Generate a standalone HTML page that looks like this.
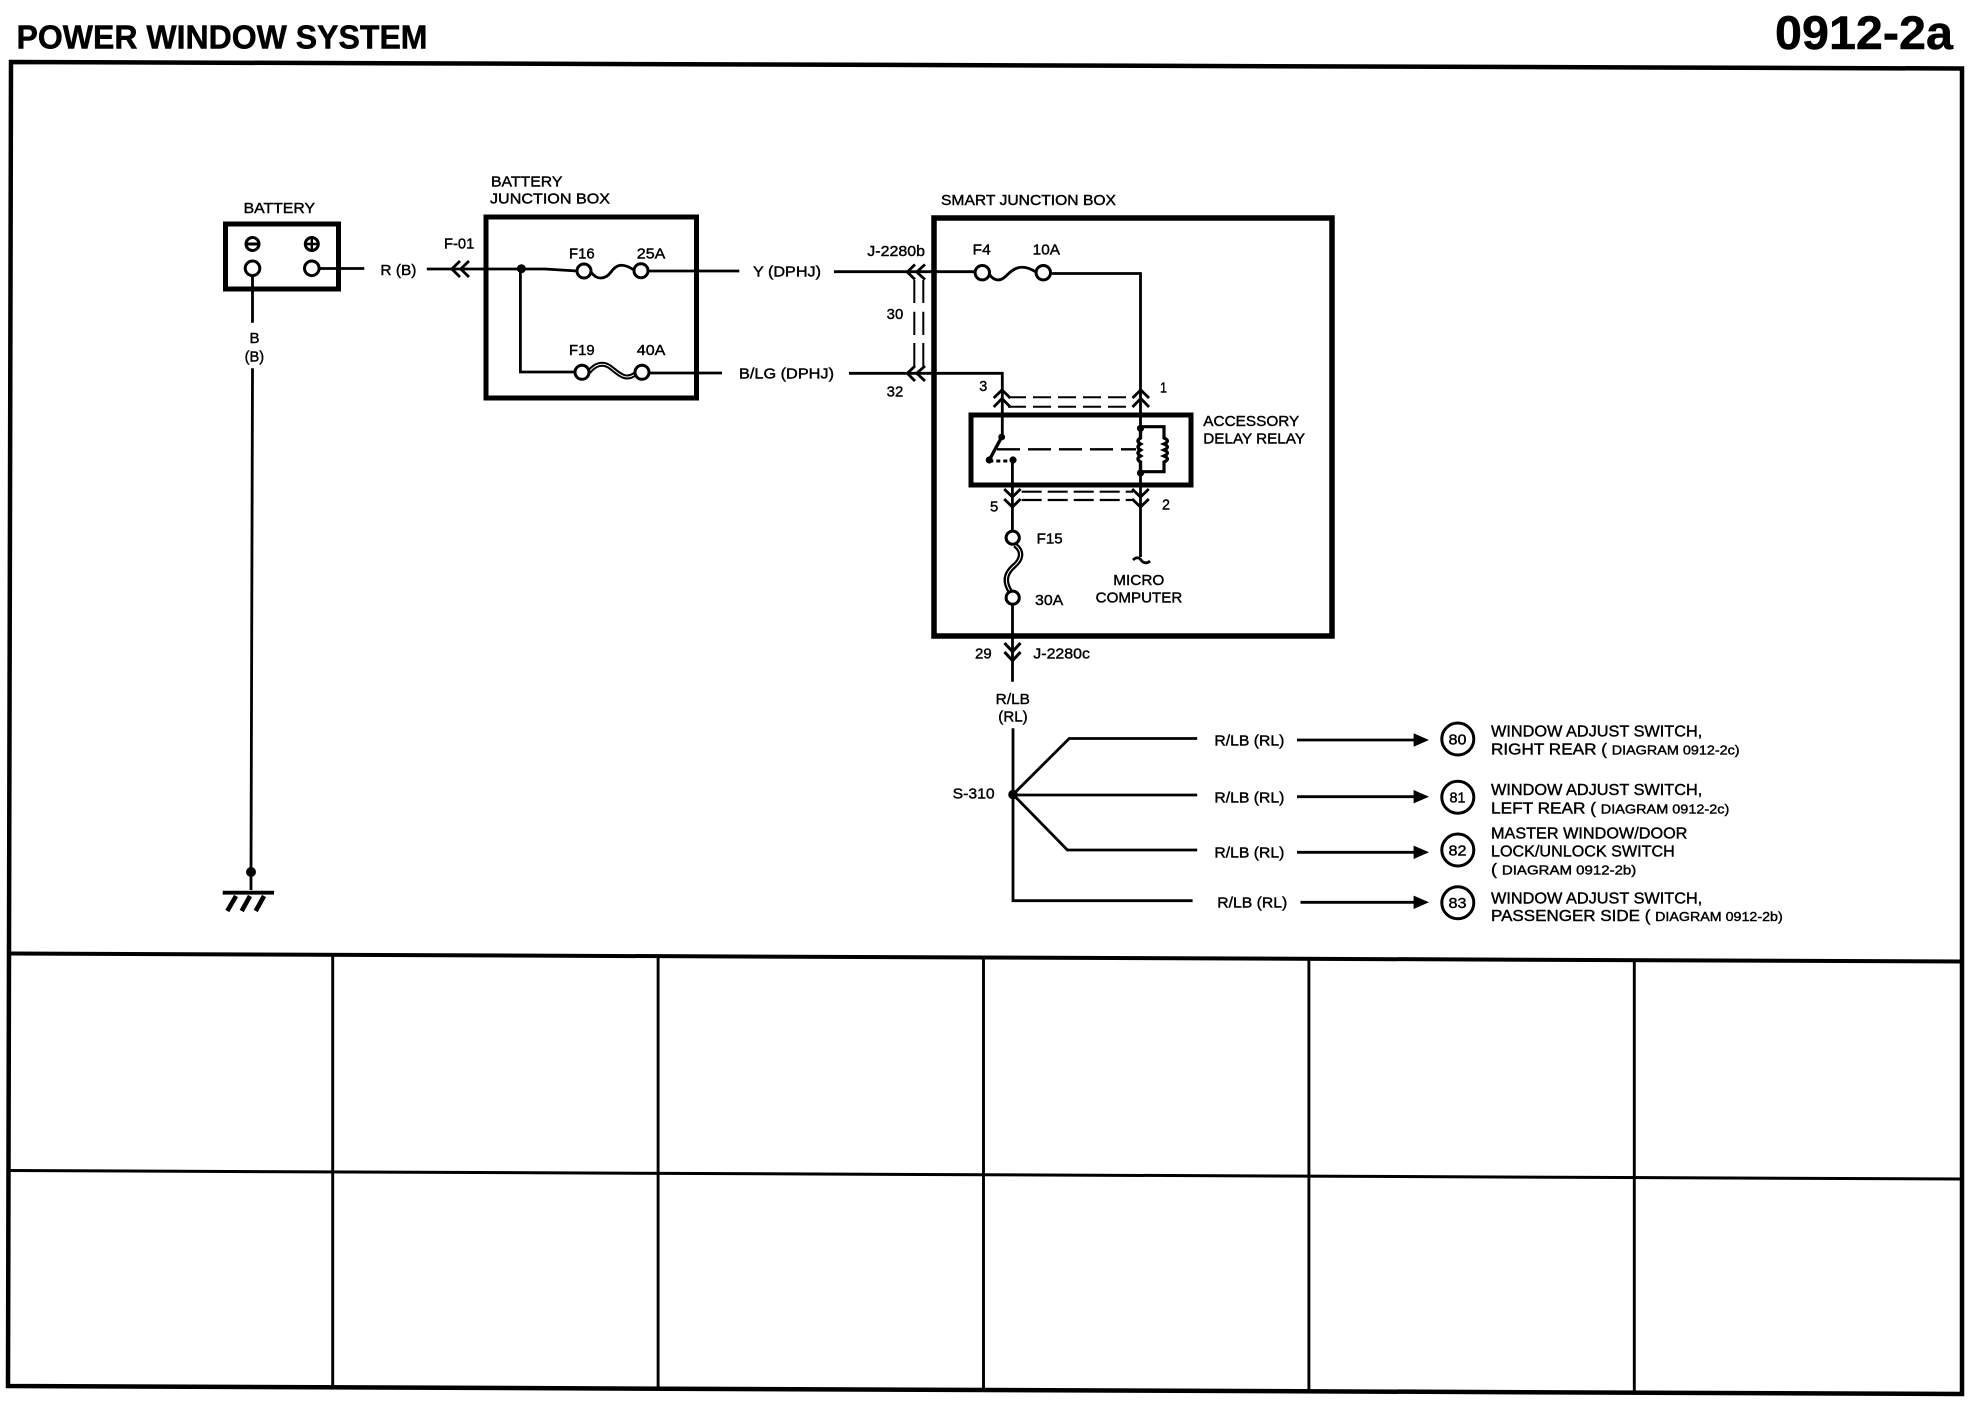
<!DOCTYPE html>
<html><head><meta charset="utf-8"><title>Power Window System</title>
<style>
html,body{margin:0;padding:0;background:#fff}
svg{display:block}
text{font-family:"Liberation Sans",sans-serif;font-size:14.5px;fill:#000;stroke:#000;stroke-width:.4}
.t{font-family:"Liberation Sans",sans-serif;font-weight:bold;stroke:#000;stroke-width:.5}
.l{font-size:15.5px}
.s{font-size:13px}
.w{fill:none;stroke:#000;stroke-width:2.8}
.c{fill:#fff;stroke:#000;stroke-width:3}
.b{fill:none;stroke:#000;stroke-width:5}
.d{fill:#000;stroke:none}
</style></head><body>
<svg width="1980" height="1408" viewBox="0 0 1980 1408" xmlns="http://www.w3.org/2000/svg">
<rect width="1980" height="1408" fill="#fff"/>

<!-- Headings -->
<text class="t" x="16.5" y="48.5" style="font-size:33px" textLength="411" lengthAdjust="spacingAndGlyphs">POWER WINDOW SYSTEM</text>
<text class="t" x="1775" y="49" style="font-size:47px" textLength="178" lengthAdjust="spacingAndGlyphs">0912-2a</text>

<!-- Frame and grid -->
<g fill="none" stroke="#000">
<path d="M11 62 L1962 68.5 V1394 L8 1386 Z" stroke-width="4.5"/>
<path d="M10 953.5 L1962 961.5" stroke-width="4"/>
<path d="M8 1170.5 L1962 1179" stroke-width="3"/>
<path d="M332.7 954.5V1387M658.1 956V1388.5M983.5 957V1390M1308.9 958.5V1391.5M1634.3 960V1393" stroke-width="2.9"/>
</g>

<!-- Battery -->
<text x="243.6" y="213" textLength="71.4" lengthAdjust="spacingAndGlyphs">BATTERY</text>
<rect x="225.5" y="224" width="113" height="65" class="b"/>
<circle cx="252.5" cy="244" r="6.5" class="c"/><path d="M247 244h11" stroke="#000" stroke-width="3"/>
<circle cx="311.8" cy="244" r="6.5" class="c"/><path d="M306 244h12M311.8 238v12" stroke="#000" stroke-width="2.4"/>
<path d="M252.5 276V322.7M252.5 368.3L251 872V890M319.5 268.5H364.3" class="w"/>
<circle cx="252.5" cy="268.3" r="7.3" class="c"/>
<circle cx="311.8" cy="268.3" r="7.3" class="c"/>
<text x="249.5" y="343" textLength="10" lengthAdjust="spacingAndGlyphs">B</text>
<text x="244.6" y="361.7" textLength="19.5" lengthAdjust="spacingAndGlyphs">(B)</text>
<text x="380.4" y="275" textLength="36" lengthAdjust="spacingAndGlyphs">R (B)</text>

<!-- Ground -->
<circle cx="251" cy="872" r="5" class="d"/>
<path d="M222.7 892.7H274" stroke="#000" stroke-width="3.8"/>
<path d="M236 896L227.3 911M250 896L241.7 911M264 896L255.7 911" stroke="#000" stroke-width="4.6" fill="none"/>

<!-- Battery junction box -->
<text x="491" y="186.7" textLength="71.4" lengthAdjust="spacingAndGlyphs">BATTERY</text>
<text x="490" y="203.3" textLength="120" lengthAdjust="spacingAndGlyphs">JUNCTION BOX</text>
<rect x="486" y="217" width="210.5" height="181" class="b"/>
<text x="444" y="248.3" textLength="30.3" lengthAdjust="spacingAndGlyphs">F-01</text>
<path d="M426.8 269H545L577 271M460 261L451.8 269L460 277M469 261L460.7 269L469 277" class="w"/>
<circle cx="521.4" cy="268.7" r="4.5" class="d"/>
<path d="M520.4 269V372H575" class="w"/>
<text x="569" y="258.3" textLength="25.6" lengthAdjust="spacingAndGlyphs">F16</text>
<text x="636.8" y="258.3" textLength="28.6" lengthAdjust="spacingAndGlyphs">25A</text>
<path d="M591 272C597 281 606 279 611 272S622 262 634 270" class="w"/>
<path d="M648 271H739.3" class="w"/>
<circle cx="584" cy="271" r="7" class="c"/>
<circle cx="641" cy="270.7" r="7" class="c"/>
<text x="569" y="355" textLength="25.6" lengthAdjust="spacingAndGlyphs">F19</text>
<text x="636.8" y="355" textLength="28.6" lengthAdjust="spacingAndGlyphs">40A</text>
<path d="M589 372C595 364 603 362 610 367S625 382 635 374" fill="none" stroke="#000" stroke-width="5"/>
<path d="M589 372C595 364 603 362 610 367S625 382 635 374" fill="none" stroke="#fff" stroke-width="1"/>
<path d="M649 373H722" class="w"/>
<circle cx="582" cy="372.3" r="7" class="c"/>
<circle cx="642" cy="372.3" r="7" class="c"/>
<text x="753" y="276.5" textLength="68" lengthAdjust="spacingAndGlyphs">Y (DPHJ)</text>
<text x="739" y="378.5" textLength="95" lengthAdjust="spacingAndGlyphs">B/LG (DPHJ)</text>

<!-- Smart junction box -->
<text x="941" y="205" textLength="175" lengthAdjust="spacingAndGlyphs">SMART JUNCTION BOX</text>
<rect x="934" y="218" width="398" height="418" fill="none" stroke="#000" stroke-width="5.5"/>
<text x="867.3" y="256" textLength="57.7" lengthAdjust="spacingAndGlyphs">J-2280b</text>
<text x="972.7" y="254.3" textLength="18" lengthAdjust="spacingAndGlyphs">F4</text>
<text x="1032.7" y="254.3" textLength="27.3" lengthAdjust="spacingAndGlyphs">10A</text>
<text x="886.7" y="319" textLength="16.6" lengthAdjust="spacingAndGlyphs">30</text>
<text x="886.7" y="396.7" textLength="16.6" lengthAdjust="spacingAndGlyphs">32</text>
<text x="979.3" y="391" textLength="8" lengthAdjust="spacingAndGlyphs">3</text>
<text x="1160" y="392.7" textLength="7" lengthAdjust="spacingAndGlyphs">1</text>
<path d="M834 271.7H975M1050 273.5H1140.5V428" class="w"/>
<path d="M915 264.5L907.3 272L915 279.5M925 264.5L916.7 272L925 279.5" class="w"/>
<path d="M989 274C994 281 1000 282 1006 276S1020 262 1036 272" class="w"/>
<circle cx="982.3" cy="272.7" r="7.2" class="c"/>
<circle cx="1043.3" cy="272.7" r="7.2" class="c"/>
<path d="M914.3 280V303M923.3 280V303M914.3 311.7V335M923.3 311.7V335M914.3 343V367M923.3 343V367" fill="none" stroke="#000" stroke-width="2"/>
<path d="M849 373.3H1002.3V437" class="w"/>
<path d="M915 366L907.3 373.3L915 381M925 366L916.7 373.3L925 381" class="w"/>

<!-- Relay upper chevrons and dashes -->
<path d="M993.7 398L1002 390L1010.3 398M993.7 407L1002 398.5L1010.3 407" class="w"/>
<path d="M1132.5 398L1140.8 390L1149 398M1132.5 407L1140.8 398.5L1149 407" class="w"/>
<path d="M1008 397.3H1133M1008 406.7H1133" fill="none" stroke="#000" stroke-width="2" stroke-dasharray="18 7"/>

<!-- Relay -->
<rect x="971" y="415" width="220" height="70" class="b"/>
<text x="1203.3" y="426" textLength="96" lengthAdjust="spacingAndGlyphs">ACCESSORY</text>
<text x="1203.3" y="443.3" textLength="101.7" lengthAdjust="spacingAndGlyphs">DELAY RELAY</text>
<path d="M1001.7 437L989.3 460" stroke="#000" stroke-width="3.4" fill="none"/>
<circle cx="1001.7" cy="437" r="3.4" class="d"/>
<circle cx="989.3" cy="460" r="3.6" class="d"/>
<circle cx="1013" cy="460" r="3.6" class="d"/>
<path d="M989.3 461H1013" fill="none" stroke="#000" stroke-width="3" stroke-dasharray="4 3"/>
<path d="M997 449.3H1136" fill="none" stroke="#000" stroke-width="2.4" stroke-dasharray="23 8"/>
<path d="M1140.5 428V438q-5 3 0 6q-5 3 0 6q-5 3 0 6q-5 3 0 6V473" fill="none" stroke="#000" stroke-width="3.4"/>
<path d="M1140.5 426.7H1164V438q7 3 0 6q7 3 0 6q7 3 0 6q7 3 0 6V471.7H1140.5" fill="none" stroke="#000" stroke-width="3.2"/>
<circle cx="1140.5" cy="428.3" r="3.6" class="d"/>
<circle cx="1140.5" cy="473" r="3.6" class="d"/>
<path d="M1012.4 460V530" class="w"/>
<path d="M1140.5 473V557" class="w"/>

<!-- Relay lower chevrons and dashes -->
<path d="M1004.2 489L1012.4 497L1020.6 489M1004.2 499L1012.4 507L1020.6 499" class="w"/>
<path d="M1132.2 489L1140.5 497L1148.8 489M1132.2 499L1140.5 507L1148.8 499" class="w"/>
<path d="M1021.7 491.7H1133M1021.7 500H1133" fill="none" stroke="#000" stroke-width="2.2" stroke-dasharray="20 6"/>
<text x="990" y="511.7" textLength="8.3" lengthAdjust="spacingAndGlyphs">5</text>
<text x="1162" y="509.3" textLength="8" lengthAdjust="spacingAndGlyphs">2</text>

<!-- F15 -->
<path d="M1015 545C1024 552 1021 560 1014 566S1003 580 1010 591" fill="none" stroke="#000" stroke-width="5.5"/>
<path d="M1015 545C1024 552 1021 560 1014 566S1003 580 1010 591" fill="none" stroke="#fff" stroke-width="1"/>
<circle cx="1012.7" cy="537.7" r="6.6" class="c"/>
<circle cx="1012.7" cy="597.7" r="6.6" class="c"/>
<text x="1036.7" y="543.3" textLength="26" lengthAdjust="spacingAndGlyphs">F15</text>
<text x="1035" y="605" textLength="28.3" lengthAdjust="spacingAndGlyphs">30A</text>
<path d="M1012.5 605V681.7" class="w"/>
<path d="M1004.5 643L1012.5 651.7L1020.5 643M1004.5 652L1012.5 660.7L1020.5 652" fill="none" stroke="#000" stroke-width="3"/>
<text x="975" y="658.3" textLength="16.7" lengthAdjust="spacingAndGlyphs">29</text>
<text x="1033.3" y="658.3" textLength="56.7" lengthAdjust="spacingAndGlyphs">J-2280c</text>

<!-- Micro computer -->
<path d="M1133 560C1136 557 1139 557 1141 560S1147 564 1150 561" class="w"/>
<text x="1113.3" y="585" textLength="51" lengthAdjust="spacingAndGlyphs">MICRO</text>
<text x="1095.7" y="602.7" textLength="86.6" lengthAdjust="spacingAndGlyphs">COMPUTER</text>

<!-- R/LB trunk -->
<text x="995.7" y="704" textLength="34.3" lengthAdjust="spacingAndGlyphs">R/LB</text>
<text x="998.3" y="721.7" textLength="29.4" lengthAdjust="spacingAndGlyphs">(RL)</text>
<path d="M1013 728.3V900.7H1192.6" class="w"/>
<circle cx="1013" cy="794.5" r="4.8" class="d"/>
<text x="952.6" y="798.3" textLength="42" lengthAdjust="spacingAndGlyphs">S-310</text>
<path d="M1013 794.5L1069.2 738.5H1197.2M1013 795H1197.2M1013 794.5L1067.4 850H1197.2" class="w"/>

<text x="1214.4" y="745.7" textLength="70" lengthAdjust="spacingAndGlyphs">R/LB (RL)</text>
<text x="1214.4" y="802.7" textLength="70" lengthAdjust="spacingAndGlyphs">R/LB (RL)</text>
<text x="1214.4" y="857.3" textLength="70" lengthAdjust="spacingAndGlyphs">R/LB (RL)</text>
<text x="1217.3" y="907.3" textLength="70" lengthAdjust="spacingAndGlyphs">R/LB (RL)</text>

<path d="M1297 740H1416M1297 796.7H1416M1297 852.3H1416M1300.5 902.3H1416" class="w"/>
<path d="M1413.6 733.3L1429 740L1413.6 746.7ZM1413.6 790L1429 796.7L1413.6 803.4ZM1413.6 845.6L1429 852.3L1413.6 859ZM1413.6 895.6L1429 902.3L1413.6 909Z" class="d"/>

<circle cx="1457.8" cy="739" r="16" class="c"/>
<circle cx="1457.8" cy="797.3" r="16" class="c"/>
<circle cx="1457.8" cy="850" r="16" class="c"/>
<circle cx="1457.8" cy="902.7" r="16" class="c"/>
<text x="1448.5" y="744.3" textLength="18" lengthAdjust="spacingAndGlyphs">80</text>
<text x="1449.5" y="802.6" textLength="16" lengthAdjust="spacingAndGlyphs">81</text>
<text x="1448.5" y="855.3" textLength="18" lengthAdjust="spacingAndGlyphs">82</text>
<text x="1448.5" y="908" textLength="18" lengthAdjust="spacingAndGlyphs">83</text>

<!-- Destinations -->
<text class="l" x="1491" y="736.7" textLength="211.3" lengthAdjust="spacingAndGlyphs">WINDOW ADJUST SWITCH,</text>
<text class="l" x="1491" y="754.3" textLength="248.6" lengthAdjust="spacingAndGlyphs">RIGHT REAR ( <tspan class="s">DIAGRAM 0912-2c)</tspan></text>
<text class="l" x="1491" y="795" textLength="211.3" lengthAdjust="spacingAndGlyphs">WINDOW ADJUST SWITCH,</text>
<text class="l" x="1491" y="813.3" textLength="238.3" lengthAdjust="spacingAndGlyphs">LEFT REAR ( <tspan class="s">DIAGRAM 0912-2c)</tspan></text>
<text class="l" x="1491" y="838.3" textLength="196.4" lengthAdjust="spacingAndGlyphs">MASTER WINDOW/DOOR</text>
<text class="l" x="1491" y="856.7" textLength="183.8" lengthAdjust="spacingAndGlyphs">LOCK/UNLOCK SWITCH</text>
<text class="l" x="1491" y="874.3" textLength="145.3" lengthAdjust="spacingAndGlyphs">( <tspan class="s">DIAGRAM 0912-2b)</tspan></text>
<text class="l" x="1491" y="903.3" textLength="211.3" lengthAdjust="spacingAndGlyphs">WINDOW ADJUST SWITCH,</text>
<text class="l" x="1491" y="921" textLength="291.7" lengthAdjust="spacingAndGlyphs">PASSENGER SIDE ( <tspan class="s">DIAGRAM 0912-2b)</tspan></text>
</svg>
</body></html>
